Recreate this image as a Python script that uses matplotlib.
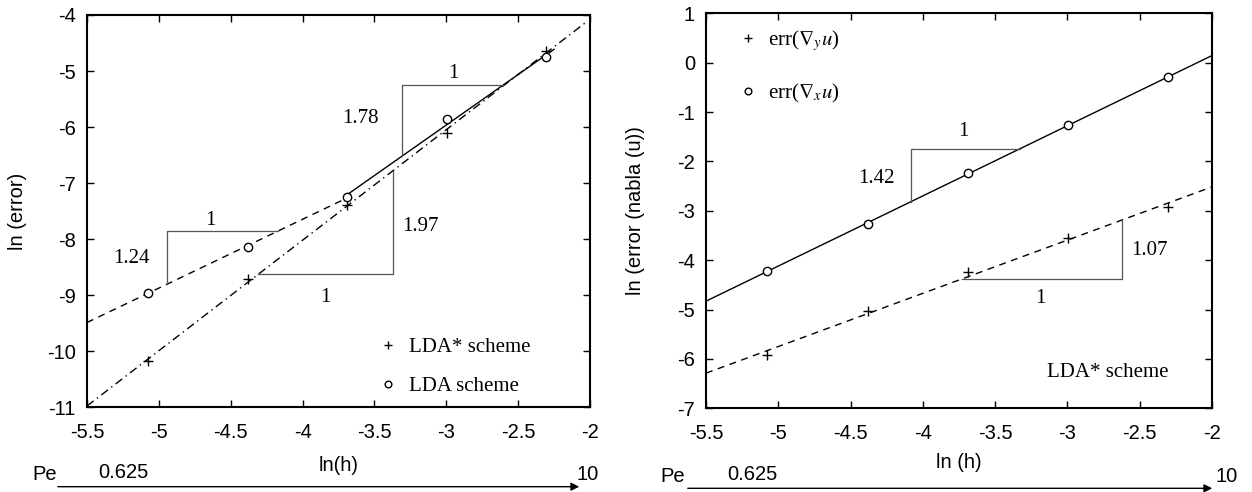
import matplotlib
matplotlib.use("Agg")
import matplotlib.pyplot as plt
import numpy as np

plt.rcParams['font.family'] = ['Liberation Sans', 'DejaVu Sans']
plt.rcParams['axes.unicode_minus'] = False
plt.rcParams['mathtext.fontset'] = 'stix'

# ln(h) for h = 1/160 ... 1/10
ln_h = [-5.075, -4.382, -3.689, -2.996, -2.303]

# left panel: ln(error)
err_lda = [-8.955, -8.134, -7.253, -5.86, -4.755]
err_lda_star = [-10.17, -8.716, -7.39, -6.11, -4.64]

# right panel: ln(error(nabla u))
err_grad_x = [-4.22, -3.27, -2.23, -1.26, -0.30]
err_grad_y = [-5.93, -5.03, -4.23, -3.56, -2.93]

x_ticks = [-5.5, -5, -4.5, -4, -3.5, -3, -2.5, -2]
y_ticks_left = [-11, -10, -9, -8, -7, -6, -5, -4]
y_ticks_right = [-7, -6, -5, -4, -3, -2, -1, 0, 1]
pe_range = ['0.625', '10']

FS = 14.5
serif = dict(family=['Liberation Serif', 'DejaVu Serif'], fontsize=15)
tri_style = dict(color='#555555', lw=0.9)
line_kw = dict(color='black', lw=1.0)


def fit(xs, ys):
    return np.poly1d(np.polyfit(xs, ys, 1))


def slope_triangle(ax, f, x0, x1, upper):
    # upper: vertical leg on the left, horizontal leg on top
    if upper:
        ax.plot([x0, x0, x1], [f(x0), f(x1), f(x1)], **tri_style)
    else:
        ax.plot([x0, x1, x1], [f(x0), f(x0), f(x1)], **tri_style)


def style_axes(ax, yticks):
    ax.set_xlim(-5.5, -2)
    ax.set_ylim(yticks[0], yticks[-1])
    ax.set_xticks(x_ticks, labels=[f'{t:g}' for t in x_ticks])
    ax.set_yticks(yticks, labels=[f'{t:g}' for t in yticks])
    ax.tick_params(direction='in', top=True, right=True, length=5, width=1,
                   labelsize=FS)
    ax.tick_params(axis='x', pad=11)
    ax.tick_params(axis='y', pad=8)
    for s in ax.spines.values():
        s.set_linewidth(1.5)


fig = plt.figure(figsize=(12.52, 4.92), dpi=100)
ax1 = fig.add_axes([87 / 1252, 1 - 407.3 / 492, 503 / 1252, 392.3 / 492])
ax2 = fig.add_axes([706 / 1252, 1 - 408.3 / 492, 506 / 1252, 395 / 492])

# ---- left panel ----
f_lda_lo = fit(ln_h[:3], err_lda[:3])
f_lda_hi = fit(ln_h[2:], err_lda[2:])
f_star = fit(ln_h, err_lda_star)

xs = np.array([-5.5, ln_h[2]])
ax1.plot(xs, f_lda_lo(xs), ls=(0, (5, 4)), **line_kw)
xs = np.array([ln_h[2], -2.25])
ax1.plot(xs, f_lda_hi(xs), ls='-', **line_kw)
xs = np.array([-5.5, -2.03])
ax1.plot(xs, f_star(xs), ls=(0, (6, 3, 1, 3)), **line_kw)

p_star, = ax1.plot(ln_h, err_lda_star, ls='none', marker='+', ms=7, mew=1,
                   color='black', label='LDA* scheme')
p_lda, = ax1.plot(ln_h, err_lda, ls='none', marker='o', ms=6, mew=1,
                  mfc='white', mec='black', label='LDA scheme')

slope_triangle(ax1, f_lda_lo, -4.945, -4.169, True)
slope_triangle(ax1, f_star, -4.308, -3.373, False)
slope_triangle(ax1, f_lda_hi, -3.31, -2.606, True)

ax1.text(-4.64, -7.66, '1', ha='center', va='center', **serif)
ax1.text(-5.19, -8.34, '1.24', ha='center', va='center', **serif)
ax1.text(-3.84, -9.04, '1', ha='center', va='center', **serif)
ax1.text(-3.18, -7.78, '1.97', ha='center', va='center', **serif)
ax1.text(-3.60, -5.84, '1.78', ha='center', va='center', **serif)
ax1.text(-2.95, -5.05, '1', ha='center', va='center', **serif)

ax1.legend(handles=[p_star, p_lda], loc='upper left',
           bbox_to_anchor=(0.5566, 0.205), frameon=False, borderpad=0,
           handlelength=1.0, handletextpad=0.5, labelspacing=0.95,
           markerscale=0.8, prop={'family': 'Liberation Serif', 'size': 15})

style_axes(ax1, y_ticks_left)
ax1.set_xlabel('ln(h)', fontsize=FS)
ax1.set_ylabel('ln (error)', fontsize=FS)
ax1.xaxis.set_label_coords(0.5, -0.125)
ax1.yaxis.set_label_coords(-0.12, 0.5)

# ---- right panel ----
f_gx = fit(ln_h, err_grad_x)
f_gy = fit(ln_h, err_grad_y)
xs = np.array([-5.5, -2.0])
ax2.plot(xs, f_gx(xs), ls='-', **line_kw)
ax2.plot(xs, f_gy(xs), ls=(0, (5, 4)), **line_kw)

q_y, = ax2.plot(ln_h, err_grad_y, ls='none', marker='+', ms=7, mew=1,
                color='black', label=r'err($\nabla_y u$)')
q_x, = ax2.plot(ln_h, err_grad_x, ls='none', marker='o', ms=6, mew=1,
                mfc='white', mec='black', label=r'err($\nabla_x u$)')

slope_triangle(ax2, f_gx, -4.084, -3.33, True)
slope_triangle(ax2, f_gy, -3.726, -2.622, False)

ax2.text(-3.72, -1.40, '1', ha='center', va='center', **serif)
ax2.text(-4.32, -2.34, '1.42', ha='center', va='center', **serif)
ax2.text(-3.19, -4.77, '1', ha='center', va='center', **serif)
ax2.text(-2.43, -3.81, '1.07', ha='center', va='center', **serif)
ax2.text(-2.72, -6.28, 'LDA* scheme', ha='center', va='center', **serif)

ax2.legend(handles=[q_y, q_x], loc='upper left',
           bbox_to_anchor=(0.041, 0.988), frameon=False, borderpad=0,
           handlelength=1.0, handletextpad=0.5, labelspacing=1.35,
           markerscale=0.8, prop={'family': 'Liberation Serif', 'size': 15})

style_axes(ax2, y_ticks_right)
ax2.set_xlabel('ln (h)', fontsize=FS)
ax2.set_ylabel('ln (error (nabla (u))', fontsize=FS)
ax2.xaxis.set_label_coords(0.5, -0.113)
ax2.yaxis.set_label_coords(-0.12, 0.5)

# ---- Pe arrows under each panel ----
for x0, x1, y_line, y_txt, x_pe, x_lo, x_hi in [
        (55, 582, 5.3, 17, 45, 123, 588),
        (685, 1215, 3.7, 16, 673, 752, 1227)]:
    fig.add_artist(matplotlib.patches.FancyArrowPatch(
        (x0 / 1252, y_line / 492), (x1 / 1252, y_line / 492),
        transform=fig.transFigure, arrowstyle='-|>', mutation_scale=12,
        lw=1.0, color='black'))
    fig.text(x_pe / 1252, y_txt / 492, 'Pe', ha='center', va='center', fontsize=FS)
    fig.text(x_lo / 1252, (y_txt + 2) / 492, pe_range[0], ha='center', va='center', fontsize=FS)
    fig.text(x_hi / 1252, y_txt / 492, pe_range[1], ha='center', va='center', fontsize=FS)

fig.savefig('out.png', dpi=100)
